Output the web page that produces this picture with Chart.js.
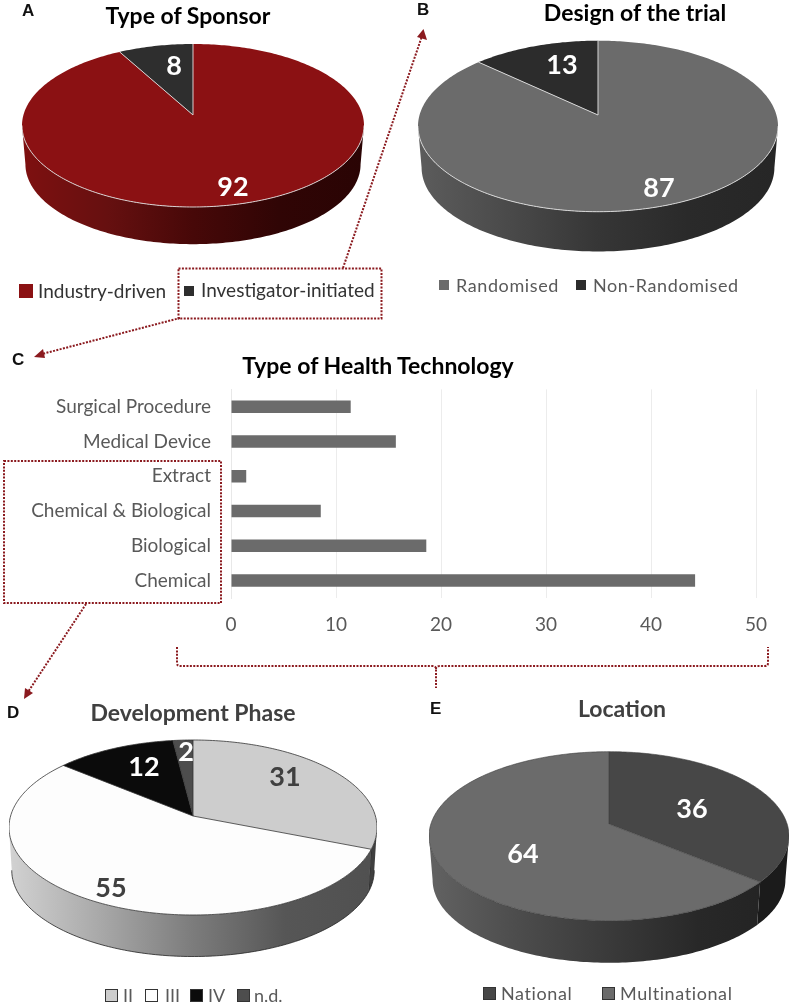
<!DOCTYPE html>
<html>
<head>
<meta charset="utf-8">
<title>Trial characteristics</title>
<script src="https://cdn.jsdelivr.net/npm/chart.js@4/dist/chart.umd.min.js"></script>
<style>
  html, body { margin: 0; padding: 0; background: #fff; }
  #page { position: relative; width: 790px; height: 1004px; overflow: hidden; }
  canvas { position: absolute; }
  svg { position: absolute; left: 0; top: 0; }
  .t { position: absolute; white-space: nowrap; line-height: 1; transform: translateY(-50%); font-family: Lato, sans-serif; }
  .sq { position: absolute; box-sizing: border-box; }
</style>
</head>
<body>
<div id="page">
  <svg width="790" height="1004" fill="none" stroke="#8b1a1f" stroke-width="2" stroke-dasharray="2 1.4">
    <rect x="178.5" y="268.5" width="203" height="50"/>
    <line x1="343" y1="268" x2="422" y2="36"/>
    <line x1="180" y1="318" x2="42" y2="354"/>
    <rect x="4" y="461" width="217" height="142"/>
    <line x1="86" y1="604" x2="28" y2="692"/>
    <path d="M177 647 V663 Q177 666 180 666 H432 Q436 666 436 669 V688 M436 669 Q436 666 440 666 H765 Q768 666 768 663 V647"/>
    <g fill="#8b1a1f" stroke="none">
      <polygon points="423.5,29 427,40 417,37"/>
      <polygon points="34,357 43,349 45,358"/>
      <polygon points="24,699 25,688 33,693"/>
    </g>
  </svg>
</div>
<script>
// A - type of sponsor
const sponsorLabels = ['Industry-driven', 'Investigator-initiated'];
const sponsorValues = [92, 8];
// B - design of the trial
const designLabels = ['Randomised', 'Non-Randomised'];
const designValues = [87, 13];
// C - type of health technology
const techLabels = ['Surgical Procedure', 'Medical Device', 'Extract', 'Chemical & Biological', 'Biological', 'Chemical'];
const techValues = [11.4, 15.7, 1.45, 8.55, 18.6, 44.2];
const techTicks = [0, 10, 20, 30, 40, 50];
// D - development phase
const phaseLabels = ['II', 'III', 'IV', 'n.d.'];
const phaseValues = [31, 55, 12, 2];
// E - location
const locationLabels = ['National', 'Multinational'];
const locationValues = [36, 64];

const page = document.getElementById('page');

function addText(text, x, y, size, color, opts = {}) {
  const el = document.createElement('div');
  el.className = 't';
  el.textContent = text;
  el.style.left = x + 'px';
  el.style.top = y + 'px';
  el.style.fontSize = size + 'px';
  el.style.color = color;
  if (opts.bold) el.style.fontWeight = 700;
  if (opts.font) el.style.fontFamily = opts.font;
  if (opts.spacing) el.style.letterSpacing = opts.spacing + 'px';
  if (opts.center) el.style.transform = 'translate(-50%, -50%)';
  page.appendChild(el);
}

function addSquare(x, y, size, color, border) {
  const el = document.createElement('div');
  el.className = 'sq';
  el.style.cssText = `left:${x}px;top:${y}px;width:${size}px;height:${size}px;background:${color};` +
    (border ? `border:1.5px solid ${border};` : '');
  page.appendChild(el);
}

// Chart.js has no 3D pie, so this plugin paints the library's arc elements
// through a perspective projection: far side squeezed, plus a wall underneath
const tiltedPie = {
  id: 'tiltedPie',
  beforeDatasetsDraw(chart, args, o) {
    const ctx = chart.ctx;
    const arcs = chart.getDatasetMeta(0).data;
    const k = (o.up - o.down) / (o.up + o.down);
    const S = o.up * (1 - k);
    const cx = arcs[0].x, cy = arcs[0].y, r0 = arcs[0].outerRadius;
    const R = r0 * Math.sqrt(1 - k * k);
    const step = Math.PI / 180;

    const project = (a, wall) => {
      const w = 1 + k * Math.sin(a);
      const s = wall ? o.shrink : 1;
      return [cx + R * s * Math.cos(a) / w, cy + (wall ? o.drop : 0) + S * s * Math.sin(a) / w];
    };
    const trace = (from, to, wall, start) => {
      const n = Math.max(1, Math.ceil(Math.abs(to - from) / step));
      for (let i = 0; i <= n; i++) {
        const pt = project(from + (to - from) * i / n, wall);
        (start && i === 0) ? ctx.moveTo(pt[0], pt[1]) : ctx.lineTo(pt[0], pt[1]);
      }
    };

    // only the stretch between the two silhouette points of the rim faces us
    const frontFrom = Math.asin(-k), frontTo = Math.PI - frontFrom;

    arcs.forEach((arc, i) => {
      const from = Math.max(arc.startAngle, frontFrom);
      const to = Math.min(arc.endAngle, frontTo);
      if (to <= from) return;
      const grad = ctx.createLinearGradient(cx - r0, 0, cx + r0, 0);
      o.walls[i].forEach((c, n, all) => grad.addColorStop(n / (all.length - 1), c));
      ctx.beginPath();
      trace(from, to, false, true);
      trace(to, from, true, false);
      ctx.closePath();
      ctx.fillStyle = grad;
      ctx.fill();
      if (o.wallEdge) {
        ctx.strokeStyle = o.wallEdge;
        ctx.lineWidth = 0.8;
        ctx.beginPath();
        trace(from, to, true, true);
        ctx.stroke();
        if (i === 0) {
          const p = project(to), q = project(to, true);
          ctx.beginPath();
          ctx.moveTo(p[0], p[1]);
          ctx.lineTo(q[0], q[1]);
          ctx.stroke();
        }
      }
    });

    // top face
    arcs.forEach(arc => {
      ctx.beginPath();
      ctx.moveTo(cx, cy);
      trace(arc.startAngle, arc.endAngle, false, false);
      ctx.closePath();
      ctx.fillStyle = arc.options.backgroundColor;
      ctx.fill();
    });
    ctx.strokeStyle = o.edge;
    ctx.lineWidth = o.edgeWidth;
    arcs.forEach(arc => {
      ctx.beginPath();
      ctx.moveTo(cx, cy);
      const p = project(arc.startAngle);
      ctx.lineTo(p[0], p[1]);
      ctx.stroke();
    });
    ctx.beginPath();
    if (o.frontRimOnly) trace(frontFrom, frontTo, false, true);
    else trace(0, 2 * Math.PI, false, true);
    ctx.stroke();
    return false;
  }
};

function makePie(labels, values, colors, box, tilt) {
  const canvas = document.createElement('canvas');
  canvas.width = box.size;
  canvas.height = box.size;
  canvas.style.left = box.left + 'px';
  canvas.style.top = box.top + 'px';
  page.appendChild(canvas);
  return new Chart(canvas, {
    type: 'pie',
    data: { labels, datasets: [{ data: values, backgroundColor: colors, borderWidth: 0 }] },
    options: {
      responsive: false,
      animation: false,
      layout: { padding: 0 },
      plugins: { legend: { display: false }, tooltip: { enabled: false }, tiltedPie: tilt }
    },
    plugins: [tiltedPie]
  });
}

makePie(sponsorLabels, sponsorValues, ['#8b1113', '#2e2e2e'], { left: 22, top: -56, size: 342 }, {
  up: 71, down: 92, drop: 39, shrink: 0.98, edge: '#d8d0d0', edgeWidth: 1, frontRimOnly: true,
  walls: [['#7e1010', '#661010', '#470808', '#300505', '#2a0404'], ['#2a0404', '#2a0404']]
});
makePie(designLabels, designValues, ['#6b6b6b', '#2c2c2c'], { left: 418, top: -65, size: 360 }, {
  up: 74.3, down: 96.7, drop: 41.7, shrink: 0.98, edge: '#d6d6d6', edgeWidth: 1, frontRimOnly: true,
  walls: [['#5c5c5c', '#4a4a4a', '#363636', '#2a2a2a', '#262626'], ['#262626', '#262626']]
});
makePie(phaseLabels, phaseValues, ['#cdcdcd', '#fdfdfd', '#0b0b0b', '#4d4d4d'], { left: 9, top: 632, size: 368 }, {
  up: 76, down: 99, drop: 43, shrink: 0.985, edge: '#333333', edgeWidth: 0.8, wallEdge: '#222222',
  walls: [['#3f3f3f', '#3f3f3f'], ['#d2d2d2', '#a8a8a8', '#7c7c7c', '#565656', '#505050'], ['#444444', '#444444'], ['#444444', '#444444']]
});
makePie(locationLabels, locationValues, ['#474747', '#6b6b6b'], { left: 429, top: 644, size: 360 }, {
  up: 72.3, down: 96.7, drop: 44, shrink: 0.98, edge: '#3a3a3a', edgeWidth: 0.6,
  walls: [['#1b1b1b', '#1b1b1b'], ['#626262', '#4c4c4c', '#3a3a3a', '#282828', '#222222']]
});

// C - horizontal bars
const barCanvas = document.createElement('canvas');
barCanvas.width = 790;
barCanvas.height = 286;
barCanvas.style.left = '0px';
barCanvas.style.top = '358px';
page.appendChild(barCanvas);
new Chart(barCanvas, {
  type: 'bar',
  data: {
    labels: techLabels,
    datasets: [{ data: techValues, backgroundColor: '#6b6b6b', barPercentage: 0.36, categoryPercentage: 1 }]
  },
  options: {
    indexAxis: 'y',
    responsive: false,
    animation: false,
    layout: { padding: { right: 34, top: 0, bottom: 0 } },
    plugins: { legend: { display: false }, tooltip: { enabled: false } },
    scales: {
      x: {
        min: 0, max: 50,
        afterBuildTicks: axis => { axis.ticks = techTicks.map(value => ({ value })); },
        afterFit: axis => { axis.height = 46; },
        grid: { color: '#ececec', drawTicks: false },
        border: { display: false },
        ticks: { color: '#595959', padding: 15, font: { family: 'Lato', size: 19 }, maxRotation: 0 }
      },
      y: {
        afterFit: axis => { axis.width = 231; },
        grid: { display: false, drawTicks: false },
        border: { color: '#e8e8e8' },
        ticks: { color: '#595959', padding: 20, font: { family: 'Lato', size: 19 } }
      }
    }
  }
});

// panel letters
[['A', 22, 10], ['B', 417, 9], ['C', 12, 359], ['D', 7, 712], ['E', 430, 708]].forEach(([s, x, y]) => {
  addText(s, x, y, 17, '#111', { bold: true, font: '"Liberation Sans"' });
});

// titles
addText('Type of Sponsor', 188, 15, 23, '#000', { bold: true, center: true });
addText('Design of the trial', 635, 12, 23, '#000', { bold: true, center: true });
addText('Type of Health Technology', 378, 365, 23, '#000', { bold: true, center: true });
addText('Development Phase', 193, 712, 23, '#404040', { bold: true, center: true });
addText('Location', 622, 708, 23, '#404040', { bold: true, center: true });

// value labels
const valueFont = { bold: true, center: true };
addText(String(sponsorValues[0]), 233, 185, 27, '#fff', valueFont);
addText(String(sponsorValues[1]), 174, 64, 27, '#fff', valueFont);
addText(String(designValues[0]), 659, 186, 27, '#fff', valueFont);
addText(String(designValues[1]), 562, 63, 27, '#fff', valueFont);
addText(String(phaseValues[0]), 285, 775, 27, '#404040', valueFont);
addText(String(phaseValues[1]), 111, 886, 27, '#404040', valueFont);
addText(String(phaseValues[2]), 144, 765, 27, '#fff', valueFont);
addText(String(phaseValues[3]), 186, 750, 27, '#fff', valueFont);
addText(String(locationValues[0]), 692, 807, 27, '#fff', valueFont);
addText(String(locationValues[1]), 523, 852, 27, '#fff', valueFont);

// legends
addSquare(19, 284, 14, '#8b1113');
addText(sponsorLabels[0], 38, 290, 19, '#333');
addSquare(184, 286, 10, '#2e2e2e');
addText(sponsorLabels[1], 201, 289, 19, '#333');

addSquare(439, 280, 10, '#6b6b6b');
addText(designLabels[0], 456, 285, 18, '#595959', { spacing: 0.6 });
addSquare(576, 280, 10, '#2c2c2c');
addText(designLabels[1], 593, 285, 18, '#595959', { spacing: 0.6 });

addSquare(105, 989, 13, '#cdcdcd', '#333');
addText(phaseLabels[0], 123, 995, 18, '#595959');
addSquare(145, 989, 13, '#fdfdfd', '#333');
addText(phaseLabels[1], 165, 995, 18, '#595959');
addSquare(190, 989, 13, '#0b0b0b', '#333');
addText(phaseLabels[2], 208, 995, 18, '#595959');
addSquare(237, 989, 13, '#4d4d4d', '#333');
addText(phaseLabels[3], 254, 995, 18, '#595959');

addSquare(483, 987, 13, '#474747', '#333');
addText(locationLabels[0], 501, 993, 18, '#595959', { spacing: 0.6 });
addSquare(602, 987, 13, '#6b6b6b', '#333');
addText(locationLabels[1], 620, 993, 18, '#595959', { spacing: 0.6 });
</script>
</body>
</html>
